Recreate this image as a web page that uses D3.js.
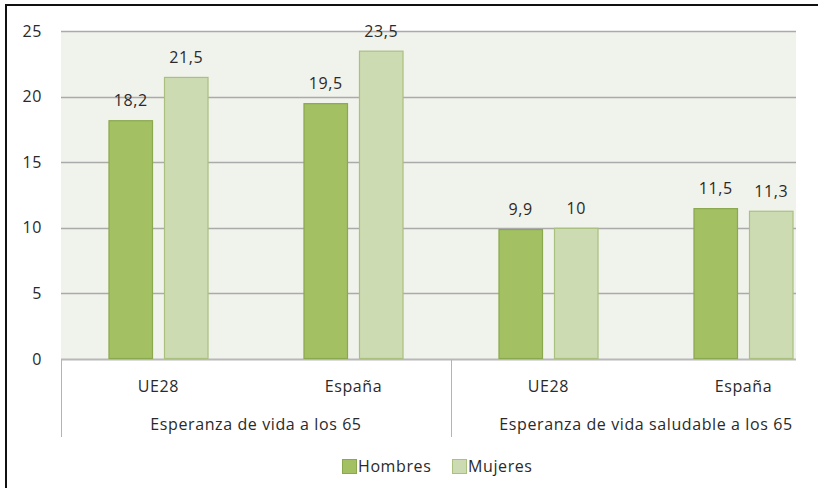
<!DOCTYPE html>
<html>
<head>
<meta charset="utf-8">
<script src="https://cdn.jsdelivr.net/npm/d3@7"></script>
<style>
  body { margin: 0; background: #fff; }
  svg { display: block; font-family: "Open Sans", Lato, sans-serif; }
  svg text { letter-spacing: 0.6px; }
</style>
</head>
<body>
<div id="chart"></div>
<script>
// data
var groups = ["Esperanza de vida a los 65", "Esperanza de vida saludable a los 65"];
var places = ["UE28", "España"];
var series = ["Hombres", "Mujeres"];
var hombres = [18.2, 19.5, 9.9, 11.5];
var mujeres = [21.5, 23.5, 10, 11.3];
var yTicks = [0, 5, 10, 15, 20, 25];

var colors = { "Hombres": "#a3c162", "Mujeres": "#cddbb2" };
var strokes = { "Hombres": "#8aa84e", "Mujeres": "#a9c07e" };

var W = 818, H = 488;
var plot = { left: 61, top: 31, bottom: 359, right: 796 };
var fs = 16;

var svg = d3.select('#chart').append('svg')
    .attr('width', W)
    .attr('height', H);

// build rows
var cats = [];
groups.forEach(function(g, gi) {
    places.forEach(function(p, pi) {
        var i = gi * places.length + pi;
        cats.push({ key: g + '|' + p, group: g, place: p, Hombres: hombres[i], Mujeres: mujeres[i] });
    });
});

var x0 = d3.scaleBand()
    .domain(cats.map(function(d) { return d.key; }))
    .range([plot.left, plot.left + 195 * 4])
    .paddingInner(0.487)
    .paddingOuter(0.2435);

var x1 = d3.scaleBand()
    .domain(series)
    .range([0, x0.bandwidth()])
    .paddingInner(0.198);

var y = d3.scaleLinear()
    .domain([0, 25])
    .range([plot.bottom, plot.top]);

svg.append('clipPath').attr('id', 'clip')
    .append('rect')
    .attr('x', 0).attr('y', 0)
    .attr('width', plot.right).attr('height', H);

var g = svg.append('g').attr('clip-path', 'url(#clip)');

// plot background
g.append('rect')
    .attr('x', plot.left)
    .attr('y', plot.top)
    .attr('width', plot.right - plot.left)
    .attr('height', plot.bottom - plot.top)
    .attr('fill', '#f0f2ec');

// gridlines
g.selectAll('.grid')
    .data(yTicks)
    .enter()
    .append('line')
    .attr('x1', plot.left)
    .attr('x2', plot.right)
    .attr('y1', function(d) { return Math.round(y(d)) + 0.5; })
    .attr('y2', function(d) { return Math.round(y(d)) + 0.5; })
    .attr('stroke', function(d) { return d === 0 ? '#b8b8b8' : '#aaaaaa'; })
    .attr('stroke-width', function(d) { return d === 0 ? 2 : 1.5; });

// y tick labels
svg.selectAll('.ylab')
    .data(yTicks)
    .enter()
    .append('text')
    .attr('x', 42)
    .attr('y', function(d) { return y(d); })
    .attr('dy', '0.35em')
    .attr('text-anchor', 'end')
    .attr('font-size', fs)
    .attr('fill', '#2a2a2a')
    .text(function(d) { return d; });

// bars
var cg = g.selectAll('.cat')
    .data(cats)
    .enter()
    .append('g')
    .attr('transform', function(d) { return 'translate(' + x0(d.key) + ',0)'; });

var fmt = function(v) { return String(v).replace('.', ','); };

cg.selectAll('rect')
    .data(function(d) { return series.map(function(s) { return { s: s, v: d[s] }; }); })
    .enter()
    .append('rect')
    .attr('x', function(d) { return x1(d.s) + 0.5; })
    .attr('y', function(d) { return y(d.v) + 0.5; })
    .attr('width', x1.bandwidth() - 1)
    .attr('height', function(d) { return plot.bottom - y(d.v) - 1; })
    .attr('fill', function(d) { return colors[d.s]; })
    .attr('stroke', function(d) { return strokes[d.s]; })
    .attr('stroke-width', 1.2);

cg.selectAll('text')
    .data(function(d) { return series.map(function(s) { return { s: s, v: d[s] }; }); })
    .enter()
    .append('text')
    .attr('x', function(d) { return x1(d.s) + x1.bandwidth() / 2; })
    .attr('y', function(d) { return y(d.v) - 14; })
    .attr('text-anchor', 'middle')
    .attr('font-size', fs)
    .attr('fill', '#2a2a2a')
    .text(function(d) { return fmt(d.v); });

// category axis
var xa = g.append('g');
xa.selectAll('.place')
    .data(cats)
    .enter()
    .append('text')
    .attr('x', function(d) { return x0(d.key) + x0.bandwidth() / 2; })
    .attr('y', 392)
    .attr('text-anchor', 'middle')
    .attr('font-size', fs)
    .attr('fill', '#2a2a2a')
    .text(function(d) { return d.place; });

var step = x0.step();
xa.selectAll('.grp')
    .data(groups)
    .enter()
    .append('text')
    .attr('x', function(d, i) { return plot.left + step * places.length * (i + 0.5); })
    .attr('y', 430)
    .attr('text-anchor', 'middle')
    .attr('font-size', fs)
    .attr('fill', '#2a2a2a')
    .text(function(d) { return d; });

xa.selectAll('.sep')
    .data(d3.range(groups.length))
    .enter()
    .append('line')
    .attr('x1', function(i) { return plot.left + step * places.length * i + 0.5; })
    .attr('x2', function(i) { return plot.left + step * places.length * i + 0.5; })
    .attr('y1', plot.bottom)
    .attr('y2', 437)
    .attr('stroke', '#b4b4b4')
    .attr('stroke-width', 1);

// legend
var legX = [342, 452];
var leg = svg.selectAll('.leg')
    .data(series)
    .enter()
    .append('g')
    .attr('transform', function(d, i) { return 'translate(' + legX[i] + ',459)'; });
leg.append('rect')
    .attr('width', 14).attr('height', 14)
    .attr('x', 0.5).attr('y', 0.5)
    .attr('fill', function(d) { return colors[d]; })
    .attr('stroke', function(d) { return strokes[d]; });
leg.append('text')
    .attr('x', 16)
    .attr('y', 7.5)
    .attr('dy', '0.35em')
    .attr('font-size', fs)
    .attr('fill', '#2a2a2a')
    .text(function(d) { return d; });

// outer frame (top and left edges visible)
svg.append('line')
    .attr('x1', 5).attr('x2', W).attr('y1', 5).attr('y2', 5)
    .attr('stroke', '#111').attr('stroke-width', 2);
svg.append('line')
    .attr('x1', 6).attr('x2', 6).attr('y1', 4).attr('y2', H)
    .attr('stroke', '#111').attr('stroke-width', 2);
</script>
</body>
</html>
